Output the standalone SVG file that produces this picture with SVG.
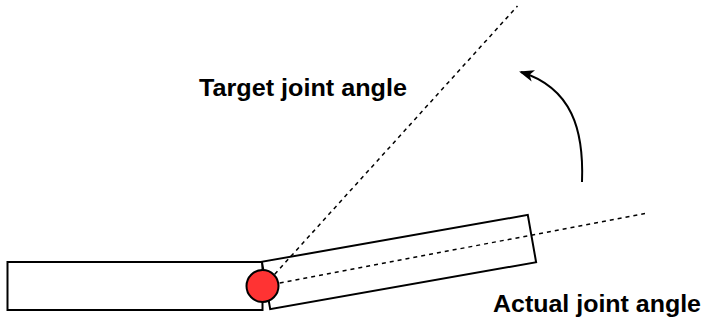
<svg xmlns="http://www.w3.org/2000/svg" width="706" height="321" viewBox="0 0 706 321">
<style>
.shape{fill:#fff;stroke:#000;stroke-width:2}
.dash{fill:none;stroke:#000;stroke-width:1.5;stroke-dasharray:4 4}
.lbl{font-family:"Liberation Sans",Arial,sans-serif;font-weight:bold;font-size:24px;fill:#000}
</style>
<defs>
<marker id="ah" markerWidth="15" markerHeight="12" refX="13" refY="6" orient="auto" markerUnits="userSpaceOnUse" viewBox="0 0 15 12">
<path d="M0,0 L15,6 L0,12 L4,6 Z" fill="#000"/>
</marker>
</defs>
<g id="link-fixed"><rect class="shape" x="7.5" y="262" width="255" height="48"/></g>
<g id="link-moving"><rect class="shape" x="264" y="238" width="270" height="48" transform="rotate(-10 399 262)"/></g>
<g id="connectors">
<line class="dash" x1="264" y1="286" x2="645" y2="213.5"/>
<line class="dash" x1="264" y1="286" x2="517.5" y2="6"/>
<path d="M582 182 C584 130 572 88 521 72" fill="none" stroke="#000" stroke-width="2" marker-end="url(#ah)"/>
</g>
<g id="joint"><circle cx="262.5" cy="286" r="16" fill="#f33" stroke="#000" stroke-width="2"/></g>
<g id="label-target"><text class="lbl" x="199" y="95.5" textLength="208" lengthAdjust="spacingAndGlyphs">Target joint angle</text></g>
<g id="label-actual"><text class="lbl" x="493" y="312" textLength="208" lengthAdjust="spacingAndGlyphs">Actual joint angle</text></g>
</svg>
